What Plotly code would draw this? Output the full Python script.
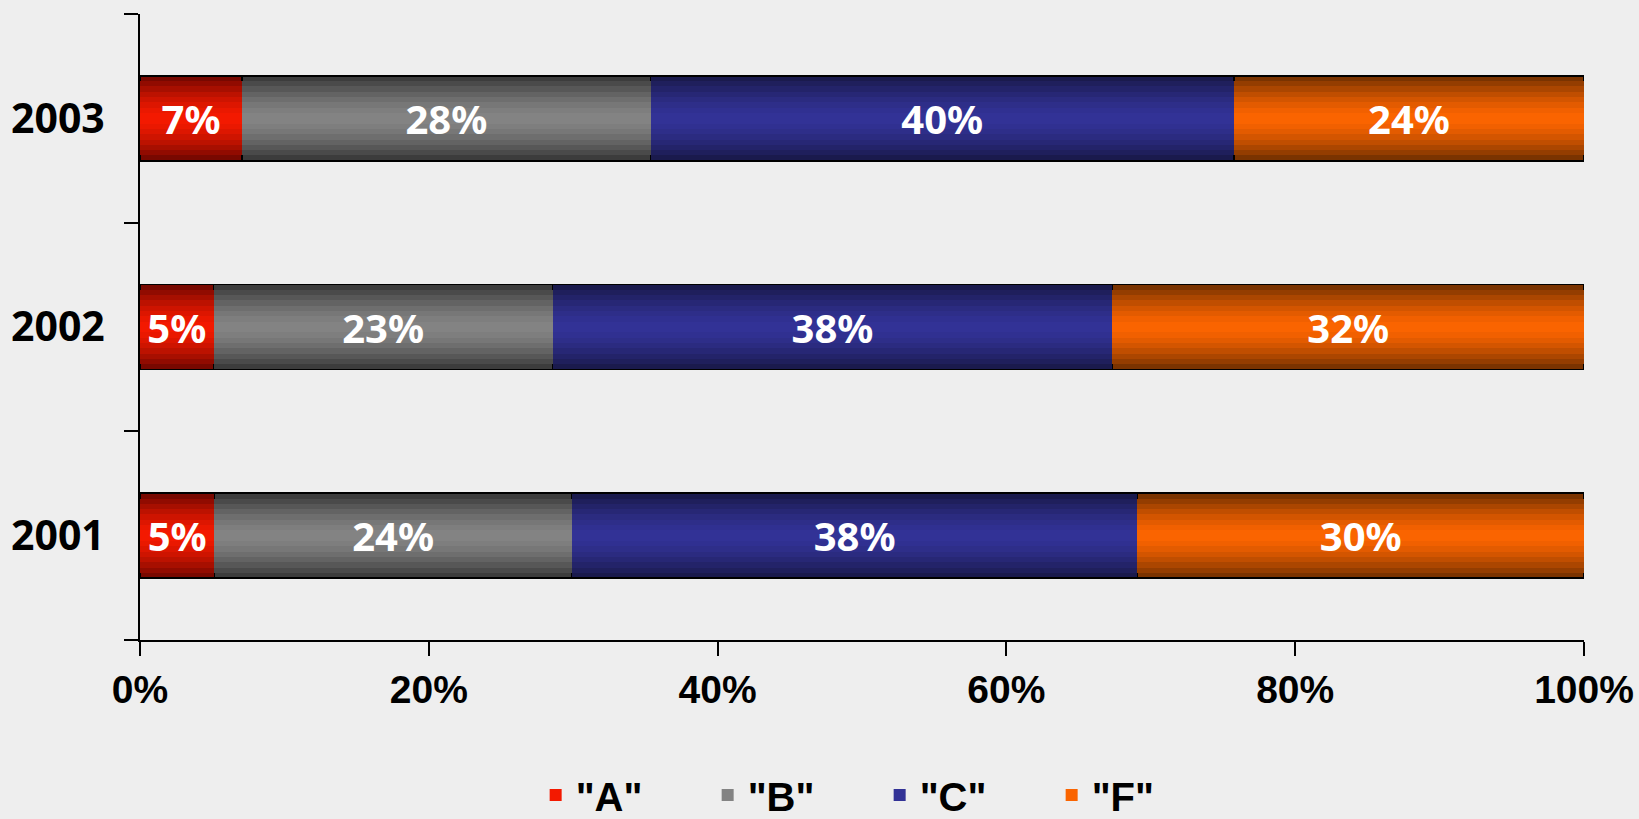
import plotly.graph_objects as go

years = ["2001", "2002", "2003"]
grades = ['"A"', '"B"', '"C"', '"F"']
vals_A = [5, 5, 7]
vals_B = [24, 23, 28]
vals_C = [38, 38, 40]
vals_F = [30, 32, 24]
series = [vals_A, vals_B, vals_C, vals_F]
x_ticks = [0, 20, 40, 60, 80, 100]
x_tick_labels = ["0%", "20%", "40%", "60%", "80%", "100%"]

edge_cols = [(0x78, 0x08, 0x00), (0x3C, 0x3C, 0x3C), (0x1A, 0x1A, 0x4D), (0x7A, 0x33, 0x00)]
center_cols = [(0xF8, 0x1A, 0x00), (0x86, 0x86, 0x86), (0x33, 0x33, 0x99), (0xFF, 0x66, 0x00)]

N_LAYERS = 8
BAR_W = 0.407


def mix(c_edge, c_center, f):
    t = f ** 1.6
    r, g, b = (round(c_center[i] + (c_edge[i] - c_center[i]) * t) for i in range(3))
    return f"rgb({r},{g},{b})"


fig = go.Figure()
for k in range(N_LAYERS):
    f = 1 - k / N_LAYERS
    yref = "y" if k == 0 else f"y{k + 1}"
    top = k == N_LAYERS - 1
    for i, (name, vals) in enumerate(zip(grades, series)):
        fig.add_trace(go.Bar(
            y=years, x=vals, orientation="h", name=name,
            width=BAR_W * f,
            yaxis=yref,
            marker=dict(color=mix(edge_cols[i], center_cols[i], f),
                        line=dict(color="black", width=1.5 if k == 0 else 0)),
            showlegend=top,
            text=[f"{v}%" for v in vals] if top else None,
            textposition="inside" if top else "none",
            insidetextanchor="middle",
            textangle=0,
            constraintext="none",
            textfont=dict(color="white", size=40, family="Noto Sans", weight="bold"),
            cliponaxis=False,
            hoverinfo="skip",
        ))

axis_common = dict(type="category", categoryorder="array", categoryarray=years,
                   range=[-0.5, 2.5])
layout_axes = {}
layout_axes["yaxis"] = dict(
    **axis_common,
    showline=True, linecolor="black", linewidth=2,
    ticks="outside", ticklen=14, tickwidth=2, tickcolor="black",
    tickson="boundaries", showgrid=False, zeroline=False,
    ticklabelstandoff=25,
    tickfont=dict(family="Noto Sans", size=41, color="black", weight="bold"),
)
for k in range(1, N_LAYERS):
    layout_axes[f"yaxis{k + 1}"] = dict(**axis_common, overlaying="y", visible=False)

fig.update_layout(
    barmode="stack", barnorm="percent",
    width=1639, height=819,
    margin=dict(l=140, r=55, t=14, b=179, autoexpand=False),
    paper_bgcolor="#EEEEEE", plot_bgcolor="#EEEEEE",
    xaxis=dict(range=[0, 100], tickmode="array", tickvals=x_ticks, ticktext=x_tick_labels,
               showline=True, linecolor="black", linewidth=2,
               ticks="outside", ticklen=14, tickwidth=2, tickcolor="black",
               showgrid=False, zeroline=False,
               tickfont=dict(family="Liberation Sans", size=39, color="black", weight="bold")),
    legend=dict(orientation="h", x=0.274, xanchor="left", y=-0.2476, yanchor="middle",
                traceorder="normal",
                font=dict(family="Liberation Sans", size=40, color="black", weight="bold"),
                bgcolor="rgba(0,0,0,0)", entrywidth=127, entrywidthmode="pixels"),
    showlegend=True,
    **layout_axes,
)

fig.write_html("out.html", config={"displayModeBar": False},
               post_script="document.body.style.margin='0';document.body.style.overflow='hidden';")
